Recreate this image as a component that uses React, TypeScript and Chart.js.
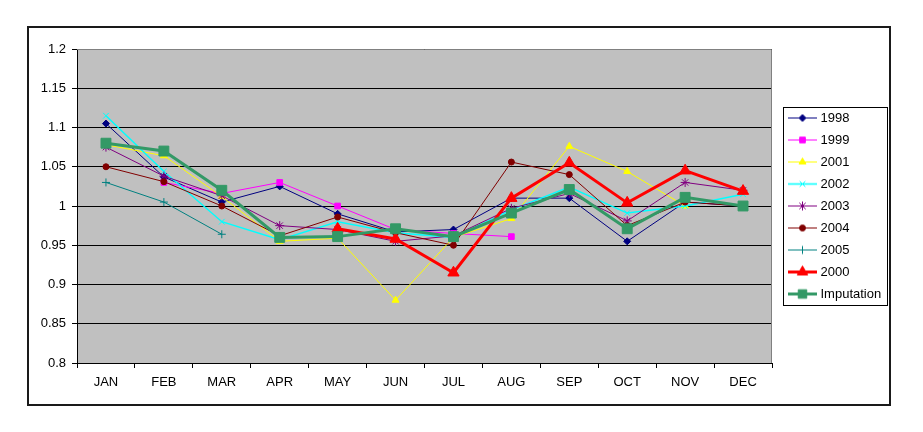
import React, { useEffect, useRef } from 'react';
import { Chart, registerables } from 'chart.js';
import { drawPoint } from 'chart.js/helpers';

Chart.register(...registerables);

const months = ['JAN', 'FEB', 'MAR', 'APR', 'MAY', 'JUN', 'JUL', 'AUG', 'SEP', 'OCT', 'NOV', 'DEC'];

const y1998 = [1.105, 1.037, 1.005, 1.025, 0.99, 0.967, 0.97, 1.01, 1.01, 0.955, 1.005, 1.0];
const y1999 = [null, 1.03, 1.016, 1.03, 1.0, 0.97, 0.965, 0.961, null, null, null, null];
const y2001 = [1.078, 1.064, 1.012, 0.955, 0.959, 0.88, 0.96, 0.984, 1.076, 1.044, 1.0, null];
const y2002 = [1.115, 1.044, 0.98, 0.957, 0.98, 0.966, 0.96, 0.995, 1.024, 0.991, 1.0, 1.015];
const y2003 = [1.075, 1.038, 1.013, 0.975, 0.97, 0.955, 0.962, 0.997, 1.016, 0.981, 1.03, 1.02];
const y2004 = [1.05, 1.031, 1.0, 0.962, 0.986, 0.966, 0.95, 1.056, 1.04, 0.975, 1.005, 1.0];
const y2005 = [1.03, 1.005, 0.964, null, null, null, null, null, null, null, null, null];
const y2000 = [null, null, null, null, 0.971, 0.958, 0.915, 1.01, 1.055, 1.004, 1.045, 1.019];
const imputation = [1.08, 1.07, 1.02, 0.96, 0.961, 0.971, 0.961, 0.991, 1.021, 0.971, 1.011, 1.0];

const yMin = 0.8;
const yMax = 1.2;
const yStep = 0.05;

const FONT = '"Liberation Sans", Arial, sans-serif';

// label, values, colour, line width, marker, marker radius
const series: [string, (number | null)[], string, number, string, number][] = [
  ['1998', y1998, '#000080', 1, 'rectRot', 3.5],
  ['1999', y1999, '#FF00FF', 1, 'rect', 4],
  ['2001', y2001, '#FFFF00', 1, 'triangle', 4],
  ['2002', y2002, '#00FFFF', 1.5, 'crossRot', 4],
  ['2003', y2003, '#800080', 1, 'star', 4.5],
  ['2004', y2004, '#800000', 1, 'circle', 3],
  ['2005', y2005, '#008080', 1, 'cross', 4],
  ['2000', y2000, '#FF0000', 3, 'triangle', 6.5],
  ['Imputation', imputation, '#339966', 3, 'rect', 7],
];

function legendIcon(color: string, lineWidth: number, style: string, radius: number) {
  const c = document.createElement('canvas');
  c.width = 39;
  c.height = 17;
  const g = c.getContext('2d')!;
  g.strokeStyle = color;
  g.lineWidth = lineWidth;
  g.beginPath();
  g.moveTo(10, 8.5);
  g.lineTo(39, 8.5);
  g.stroke();
  g.fillStyle = color;
  g.lineWidth = 1;
  drawPoint(g, { pointStyle: style as any, radius: Math.min(radius, 6), rotation: 0, borderWidth: 1 }, 24.5, 8.5);
  return c;
}

const plotFrame = {
  id: 'plotFrame',
  beforeDraw(chart: any) {
    const { ctx, chartArea: a } = chart;
    ctx.save();
    ctx.fillStyle = '#C0C0C0';
    ctx.fillRect(a.left, a.top, a.right - a.left, a.bottom - a.top);
    ctx.restore();
  },
  beforeDatasetsDraw(chart: any) {
    const { ctx, chartArea: a } = chart;
    ctx.save();
    ctx.strokeStyle = '#808080';
    ctx.lineWidth = 1;
    ctx.beginPath();
    ctx.moveTo(a.left, a.top + 0.5);
    ctx.lineTo(a.right - 0.5, a.top + 0.5);
    ctx.lineTo(a.right - 0.5, a.bottom);
    ctx.stroke();
    ctx.restore();
  },
  afterDraw(chart: any) {
    const hb = chart.legend?.legendHitBoxes;
    if (!hb || !hb.length) return;
    const { ctx } = chart;
    const first = hb[0];
    const last = hb[hb.length - 1];
    const x = Math.round(first.left + 2) + 0.5;
    const y = Math.round(first.top - 4.5) + 0.5;
    const w = 104;
    const h = Math.round(last.top + last.height + 4.5) - Math.round(first.top - 4.5);
    ctx.save();
    ctx.strokeStyle = '#000';
    ctx.lineWidth = 1;
    ctx.strokeRect(x, y, w, h);
    ctx.restore();
  },
};

const App: React.FC = () => {
  const chartRef = useRef<HTMLCanvasElement | null>(null);

  useEffect(() => {
    const ctx = chartRef.current?.getContext('2d');
    if (!ctx) return;

    const chartInstance = new Chart(ctx, {
      type: 'line',
      data: {
        labels: months,
        datasets: series.map(([label, values, color, width, style, radius], i) => ({
          label,
          data: values,
          borderColor: color,
          backgroundColor: color,
          borderWidth: width,
          pointStyle: style as any,
          pointRadius: radius,
          pointBorderWidth: 1,
          pointBackgroundColor: color,
          pointBorderColor: color,
          tension: 0,
          fill: false,
          spanGaps: false,
          order: series.length - i,
        })),
      },
      options: {
        animation: false,
        responsive: false,
        events: [],
        layout: { padding: { left: 0, top: 41, right: 31, bottom: 31 } },
        scales: {
          x: {
            offset: true,
            grid: {
              display: true,
              drawOnChartArea: false,
              drawTicks: true,
              tickLength: 5,
              color: '#000',
              offset: true,
            },
            border: { display: true, color: '#000', width: 1 },
            ticks: {
              color: '#000',
              font: { family: FONT, size: 13 },
              padding: 7,
              maxRotation: 0,
            },
            afterFit: (scale: any) => {
              scale.height = 30;
            },
          },
          y: {
            min: yMin,
            max: yMax,
            grid: { color: '#000', lineWidth: 1, tickLength: 5 },
            border: { display: true, color: '#000', width: 1 },
            ticks: {
              stepSize: yStep,
              color: '#000',
              font: { family: FONT, size: 13 },
              padding: 6,
              callback: (v: any) => String(Number(Number(v).toFixed(2))),
            },
            afterFit: (scale: any) => {
              scale.width = 69;
            },
          },
        },
        plugins: {
          title: { display: false },
          tooltip: { enabled: false },
          legend: {
            display: true,
            position: 'right',
            fullSize: false,
            maxWidth: 112,
            labels: {
              color: '#000',
              font: { family: FONT, size: 13 },
              padding: 9,
              usePointStyle: true,
              pointStyleWidth: 33,
              boxHeight: 13,
              generateLabels: (chart: any) =>
                chart.data.datasets.map((ds: any, i: number) => ({
                  text: ds.label,
                  fillStyle: ds.borderColor,
                  strokeStyle: ds.borderColor,
                  lineWidth: 0,
                  hidden: false,
                  datasetIndex: i,
                  pointStyle: legendIcon(series[i][2], series[i][3], series[i][4], series[i][5]),
                })),
            },
          },
        },
      },
      plugins: [plotFrame],
    });

    return () => {
      chartInstance.destroy();
    };
  }, []);

  return (
    <div style={{ position: 'relative', width: 907, height: 416 }}>
      <div
        style={{
          position: 'absolute',
          left: 19,
          top: 18,
          width: 864,
          height: 380,
          boxSizing: 'border-box',
          border: '2px solid #1a1a1a',
        }}
      />
      <canvas
        ref={chartRef}
        width={907}
        height={416}
        style={{ position: 'absolute', left: 0, top: 0, width: 907, height: 416 }}
      />
    </div>
  );
};

export default App;
